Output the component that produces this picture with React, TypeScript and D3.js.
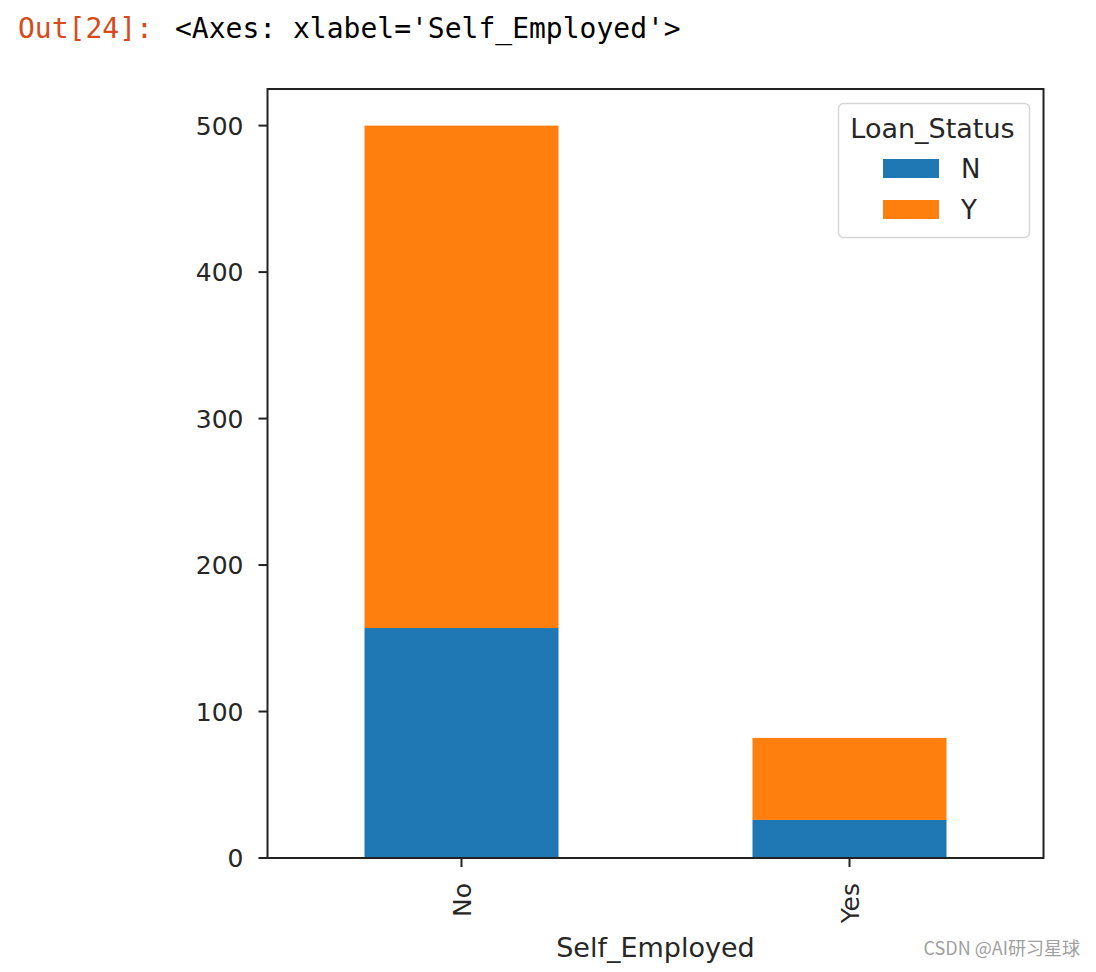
import React from "react";
import * as d3 from "d3";

const categories = ["No", "Yes"];
const seriesN = [157, 26];
const seriesY = [343, 56];
const seriesNames = ["N", "Y"];
const yTicks = [0, 100, 200, 300, 400, 500];

const W = 1096;
const H = 972;
const M = { left: 267.5, right: 1043.5, top: 89, bottom: 858 };
const colors = ["#1f77b4", "#ff7f0e"];

export default function App() {
  const x = d3.scaleLinear().domain([-0.5, categories.length - 0.5]).range([M.left, M.right]);
  const y = d3.scaleLinear().domain([0, 525]).range([M.bottom, M.top]);
  const bw = 0.5;
  const stacks = categories.map((c, i) => {
    const n = seriesN[i];
    const yy = seriesY[i];
    return { c, i, segs: [{ y0: 0, y1: n, k: 0 }, { y0: n, y1: n + yy, k: 1 }] };
  });
  const font = "'DejaVu Sans', sans-serif";
  const mono = "'DejaVu Sans Mono', monospace";
  return (
    <svg width={W} height={H} style={{ position: "absolute", left: 0, top: 0, background: "#fff" }}>
      <rect x={0} y={0} width={W} height={H} fill="#fff" />
      <text x={18} y={38} fontFamily={mono} fontSize={28} fill="#d84a1b">Out[24]:</text>
      <text x={175} y={38} fontFamily={mono} fontSize={28} fill="#000">{"<Axes: xlabel='Self_Employed'>"}</text>

      {stacks.map((s) =>
        s.segs.map((g) => (
          <rect
            key={s.c + g.k}
            x={x(s.i - bw / 2)}
            width={x(s.i + bw / 2) - x(s.i - bw / 2)}
            y={y(g.y1)}
            height={y(g.y0) - y(g.y1)}
            fill={colors[g.k]}
          />
        ))
      )}

      <rect x={M.left} y={M.top} width={M.right - M.left} height={M.bottom - M.top} fill="none" stroke="#222" strokeWidth={2} />

      {yTicks.map((t) => (
        <g key={t}>
          <line x1={M.left - 9} x2={M.left} y1={y(t)} y2={y(t)} stroke="#222" strokeWidth={2} />
          <text x={M.left - 24} y={y(t)} dy="0.36em" textAnchor="end" fontFamily={font} fontSize={25} fill="#262626">{t}</text>
        </g>
      ))}

      {categories.map((c, i) => (
        <g key={c}>
          <line x1={x(i)} x2={x(i)} y1={M.bottom} y2={M.bottom + 9} stroke="#222" strokeWidth={2} />
          <text
            transform={`translate(${x(i)},${M.bottom + 25}) rotate(-90)`}
            dy="0.36em"
            textAnchor="end"
            fontFamily={font}
            fontSize={25}
            fill="#262626"
          >{c}</text>
        </g>
      ))}

      <text x={(M.left + M.right) / 2} y={957} textAnchor="middle" fontFamily={font} fontSize={27} fill="#262626">Self_Employed</text>

      <rect x={838.5} y={103.5} width={191} height={134} rx={5} fill="#fff" stroke="#d6d6d6" strokeWidth={1.5} />
      <text x={932.5} y={138} textAnchor="middle" fontFamily={font} fontSize={27} fill="#262626">Loan_Status</text>
      {seriesNames.map((nm, k) => (
        <g key={nm}>
          <rect x={883} y={159 + k * 41} width={56} height={19} fill={colors[k]} />
          <text x={961} y={169 + k * 41} dy="0.36em" fontFamily={font} fontSize={26} fill="#262626">{nm}</text>
        </g>
      ))}

      <text x={1080} y={955} textAnchor="end" fontFamily="'Noto Sans CJK SC', 'Noto Sans', sans-serif" fontSize={18} fill="#a0a0a0">CSDN @AI研习星球</text>
    </svg>
  );
}
